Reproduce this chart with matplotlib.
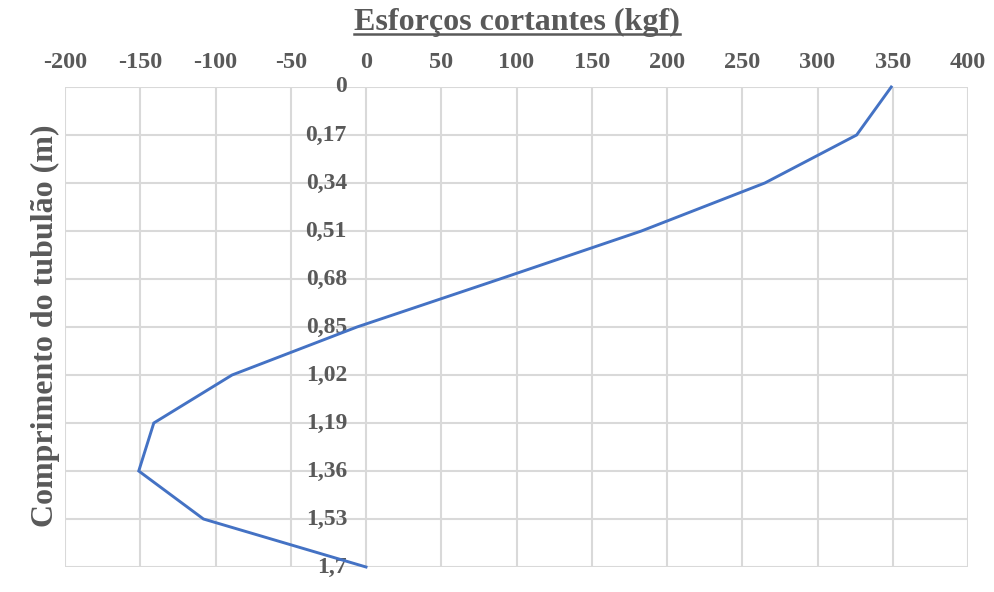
import matplotlib
matplotlib.use("Agg")
import matplotlib.pyplot as plt
from matplotlib.lines import Line2D
import matplotlib.transforms as mtransforms

# Shear force along the caisson shaft
comprimento = [0.0, 0.17, 0.34, 0.51, 0.68, 0.85, 1.02, 1.19, 1.36, 1.53, 1.70]
comprimento_labels = ["0", "0,17", "0,34", "0,51", "0,68", "0,85",
                      "1,02", "1,19", "1,36", "1,53", "1,7"]
cortante = [349, 326, 265, 183, 89, -6, -89, -141, -151, -108, 0]
x_ticks = [-200, -150, -100, -50, 0, 50, 100, 150, 200, 250, 300, 350, 400]

text_color = "#595959"
grid_color = "#D9D9D9"
line_color = "#4472C4"
serif = ["Liberation Serif", "DejaVu Serif"]

fig = plt.figure(figsize=(9.95, 5.92), dpi=100)
ax = fig.add_axes([65 / 995, 1 - 567 / 592, (968 - 65) / 995, (567 - 87) / 592])

ax.plot(cortante, comprimento, color=line_color, linewidth=2.1,
        solid_joinstyle="miter", zorder=3, clip_on=False)

ax.set_xlim(-200, 400)
ax.set_ylim(1.70, 0.0)
ax.set_xticks(x_ticks)
ax.set_xticklabels([str(v) for v in x_ticks])
ax.set_yticks(comprimento)
ax.set_yticklabels([])

ax.xaxis.tick_top()
ax.tick_params(axis="x", length=0, pad=10, labelsize=17.5, labelcolor=text_color)
ax.tick_params(axis="y", length=0)
for lbl in ax.get_xticklabels():
    lbl.set_fontfamily(serif)
    lbl.set_fontweight("bold")

ax.grid(True, color=grid_color, linewidth=1.5, zorder=0)
ax.set_axisbelow(True)
for s in ax.spines.values():
    s.set_visible(False)

# Category labels sit beside the vertical zero line
trans = mtransforms.blended_transform_factory(ax.transData, ax.transData)
offset = mtransforms.ScaledTranslation(-19 / 100, 0, fig.dpi_scale_trans)
for y, lab in zip(comprimento, comprimento_labels):
    ax.text(0, y, lab, transform=trans + offset, ha="right", va="center",
            fontsize=17, fontweight="bold", color=text_color,
            fontfamily=serif, zorder=2)

title = fig.text(517 / 995, 1 - 22 / 592, "Esforços cortantes (kgf)",
                 ha="center", va="center", fontsize=23, fontweight="bold",
                 color=text_color, fontfamily=serif)
fig.text(45 / 995, 1 - 326 / 592, "Comprimento do tubulão (m)",
         ha="center", va="center", rotation=90, fontsize=23,
         fontweight="bold", color=text_color, fontfamily=serif)

# Underline the title
fig.canvas.draw()
bb = title.get_window_extent().transformed(fig.transFigure.inverted())
uy = bb.y0 + 0.004
fig.add_artist(Line2D([bb.x0, bb.x1], [uy, uy], transform=fig.transFigure,
                      color=text_color, linewidth=1.8))

fig.savefig("out.png", dpi=100, facecolor="white")
